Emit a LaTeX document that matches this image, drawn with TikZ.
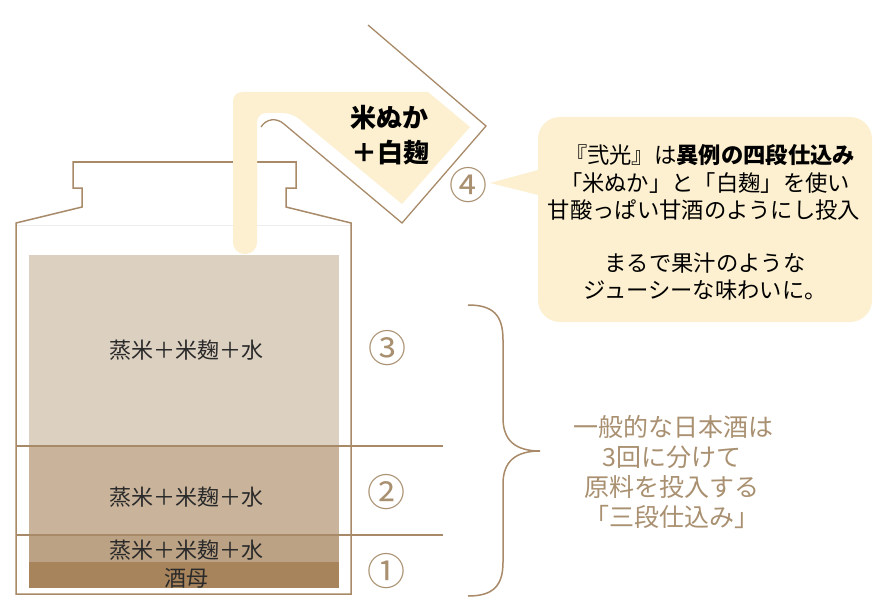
\documentclass[tikz,border=0pt]{standalone}
\usepackage{fontspec}
\newfontfamily\jp{Noto Sans CJK JP}
\definecolor{cream}{HTML}{FDF0D0}
\definecolor{brn}{HTML}{A88A68}
\definecolor{tanx}{HTML}{A99070}
\definecolor{lay3}{HTML}{DCD0C1}
\definecolor{lay2}{HTML}{C9B49B}
\definecolor{lay1}{HTML}{BBA284}
\definecolor{lay0}{HTML}{A7845C}
\definecolor{ink}{HTML}{2A2A2A}
\begin{document}
\begin{tikzpicture}[x=1pt,y=-1pt,
  outl/.style={draw=brn,line width=1.5pt},
  tanktext/.style={font=\jp\fontsize{22}{26}\selectfont,text=ink,inner sep=0pt},
  calltext/.style={font=\jp\fontsize{22.3}{26}\selectfont,text=black,inner sep=0pt},
  sidetext/.style={font=\jp\fontsize{25}{30}\selectfont,text=tanx,inner sep=0pt},
  circnum/.style={font=\jp\fontsize{38}{40}\selectfont,text=tanx,inner sep=0pt},
  boldtext/.style={font=\jp\bfseries\fontsize{26}{30}\selectfont,text=black,inner sep=0pt}]
\useasboundingbox (0,0) rectangle (890,604);
\fill[white] (0,0) rectangle (890,604);
% layers
\fill[lay3] (29,255) rectangle (339,446);
\fill[lay2] (29,446) rectangle (339,535);
\fill[lay1] (29,535) rectangle (339,562);
\fill[lay0] (29,562) rectangle (339,588);
% faint line
\draw[black!7,line width=0.8pt] (16,225) -- (351,225);
% tank outline
\draw[outl,line join=miter] (16,594) -- (16,223) -- (82,207) -- (82,188) -- (73,188) -- (73,162) -- (296,162) -- (296,188) -- (286,188) -- (286,207) -- (351,223) -- (351,594) -- cycle;
% stage lines
\coordinate (l2a) at (17,446); \coordinate (l2b) at (443,446);
\coordinate (l1a) at (17,535); \coordinate (l1b) at (443,535);
\draw[outl] (l2a) -- (l2b);
\draw[outl] (l1a) -- (l1b);
% pipe and hopper
\fill[cream,rounded corners=11.5pt] (233,150) rectangle (257,254);
\fill[cream] (233,200) [rounded corners=9pt] -- (233,92) [sharp corners] -- (428,92) -- (470,127) -- (402,204) [rounded corners=9pt] -- (292,113) -- (257,113) [sharp corners] -- (257,200) -- cycle;
\draw[brn,line width=1.3pt,line join=miter] (368,25) -- (486,126) -- (402,223) -- (284,124) .. controls (276,117) and (266,119) .. (261,127);
\node[boldtext] (nuka) at (389,118) {米ぬか};
\node[boldtext] (shiro) at (390,153) {＋白麹};
% callout
\fill[cream] (538,170) -- (490,183) -- (538,195) -- cycle;
\fill[cream,rounded corners=22pt] (538,117) rectangle (872,322);
\node[calltext] (c1) at (710,155) {『弐光』は{\bfseries 異例の四段仕込み}};
\node[calltext] (c2) at (705,183) {「米ぬか」と「白麹」を使い};
\node[calltext] (c3) at (704,210) {甘酸っぱい甘酒のようにし投入};
\node[calltext] (c4) at (705,263) {まるで果汁のような};
\node[calltext] (c5) at (705,290) {ジューシーな味わいに。};
% circled numbers
\node[circnum] (n4) at (468,185) {④};
\node[circnum] (n3) at (387,348) {③};
\node[circnum] (n2) at (386,492) {②};
\node[circnum] (n1) at (386,571) {①};
% tank texts
\node[tanktext] (t3) at (186,350) {蒸米＋米麹＋水};
\node[tanktext] (t2) at (186,497) {蒸米＋米麹＋水};
\node[tanktext] (t1) at (186,550) {蒸米＋米麹＋水};
\node[tanktext] (t0) at (186,578) {酒母};
% brace
\draw[brn,line width=1.5pt] (468,305) .. controls (493,305) and (503,315) .. (503,340) -- (503,418) .. controls (503,440) and (515,451) .. (540,451) .. controls (515,451) and (503,462) .. (503,484) -- (503,562) .. controls (503,586) and (493,596) .. (468,596);
% side text
\node[sidetext] (s1) at (673,427) {一般的な日本酒は};
\node[sidetext] (s2) at (672,457) {3回に分けて};
\node[sidetext] (s3) at (672,487) {原料を投入する};
\node[sidetext] (s4) at (672,517) {「三段仕込み」};
\end{tikzpicture}
\end{document}
